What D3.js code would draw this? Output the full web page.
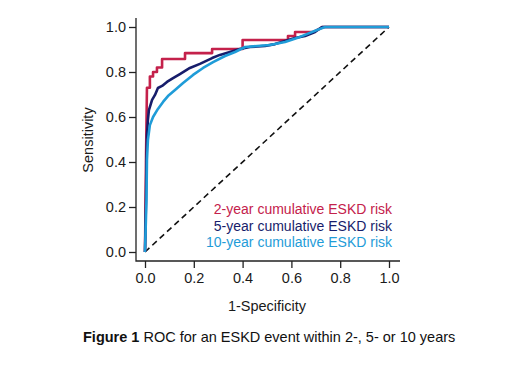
<!DOCTYPE html>
<html lang="en">
<head>
<meta charset="UTF-8">
<title>ROC ESKD</title>
<script src="https://d3js.org/d3.v7.min.js"></script>
<style>
  body { margin: 0; background: #fff; }
  text { font-family: Arial, "Liberation Sans", sans-serif; }
</style>
</head>
<body>
<svg width="520" height="390"></svg>
<script>
// [1-specificity, sensitivity]
const roc2yr = [[0,0],[0.004,0.40],[0.008,0.73],[0.02,0.73],[0.02,0.78],[0.033,0.78],[0.033,0.80],
  [0.049,0.80],[0.049,0.82],[0.07,0.82],[0.07,0.858],[0.164,0.858],[0.164,0.884],[0.275,0.884],
  [0.275,0.902],[0.4,0.902],[0.4,0.942],[0.586,0.942],[0.586,0.96],[0.615,0.96],[0.615,0.978],
  [0.69,0.978],[0.73,1],[1,1]];
const roc5yr = [[0,0],[0.004,0.231],[0.006,0.409],[0.008,0.52],[0.012,0.587],[0.016,0.631],
  [0.029,0.676],[0.041,0.698],[0.053,0.729],[0.07,0.738],[0.09,0.756],[0.115,0.773],[0.143,0.791],
  [0.184,0.818],[0.225,0.836],[0.275,0.862],[0.307,0.876],[0.348,0.889],[0.389,0.902],[0.43,0.911],
  [0.492,0.916],[0.533,0.924],[0.574,0.938],[0.615,0.951],[0.656,0.96],[0.697,0.978],[0.725,1],[1,1]];
const roc10yr = [[0,0],[0.006,0.231],[0.008,0.409],[0.012,0.498],[0.02,0.564],[0.033,0.6],
  [0.053,0.636],[0.074,0.667],[0.094,0.693],[0.123,0.72],[0.156,0.751],[0.197,0.787],[0.238,0.818],
  [0.279,0.844],[0.328,0.871],[0.369,0.889],[0.41,0.911],[0.512,0.92],[0.574,0.933],[0.635,0.956],
  [0.705,0.987],[0.738,1],[1,1]];
const seriesNames = ["2-year cumulative ESKD risk", "5-year cumulative ESKD risk", "10-year cumulative ESKD risk"];
const ticks = [0, 0.2, 0.4, 0.6, 0.8, 1.0];

const colors = ["#c4214b", "#171d6b", "#1f9cd8"];
const svg = d3.select("svg");

const x = d3.scaleLinear().domain([0, 1]).range([145, 389]);
const y = d3.scaleLinear().domain([0, 1]).range([252, 27]);
const axX = 136, axY = 261;

// axes (offset from the data area)
const yAxis = svg.append("g")
  .attr("transform", `translate(${axX},0)`)
  .call(d3.axisLeft(y).tickValues(ticks).tickFormat(d3.format(".1f")).tickSize(7).tickPadding(3));
const xAxis = svg.append("g")
  .attr("transform", `translate(0,${axY})`)
  .call(d3.axisBottom(x).tickValues(ticks).tickFormat(d3.format(".1f")).tickSize(7).tickPadding(5));
[yAxis, xAxis].forEach(g => {
  g.select(".domain").remove();
  g.selectAll("line").attr("stroke", "#222").attr("stroke-width", 1.3);
  g.selectAll("text").attr("fill", "#1a1a1a").style("font-size", "14.5px");
});
svg.append("path")
  .attr("d", `M${axX},18V${axY}H400`)
  .attr("fill", "none").attr("stroke", "#222").attr("stroke-width", 1.3);

// chance line
svg.append("line")
  .attr("x1", x(0)).attr("y1", y(0)).attr("x2", x(1)).attr("y2", y(1))
  .attr("stroke", "#111").attr("stroke-width", 1.6).attr("stroke-dasharray", "6,4");

const line = d3.line().x(d => x(d[0])).y(d => y(d[1]));
[roc2yr, roc5yr, roc10yr].forEach((s, i) => {
  svg.append("path").datum(s)
    .attr("d", line)
    .attr("fill", "none")
    .attr("stroke", colors[i])
    .attr("stroke-width", 2.6)
    .attr("stroke-linejoin", "round");
});

// legend
seriesNames.forEach((n, i) => {
  svg.append("text")
    .attr("x", 392).attr("y", 214 + i * 16.5)
    .attr("text-anchor", "end")
    .attr("fill", colors[i])
    .style("font-size", "14px")
    .text(n);
});

// axis titles
svg.append("text")
  .attr("transform", "translate(93,140) rotate(-90)")
  .attr("text-anchor", "middle").attr("fill", "#1a1a1a")
  .style("font-size", "14.5px")
  .text("Sensitivity");
svg.append("text")
  .attr("x", 267).attr("y", 311)
  .attr("text-anchor", "middle").attr("fill", "#1a1a1a")
  .style("font-size", "14.5px")
  .text("1-Specificity");

// caption
const cap = svg.append("text")
  .attr("x", 83).attr("y", 342)
  .attr("fill", "#111")
  .style("font-size", "14.5px");
cap.append("tspan").attr("font-weight", "bold").text("Figure 1");
cap.append("tspan").text(" ROC for an ESKD event within 2-, 5- or 10 years");
</script>
</body>
</html>
